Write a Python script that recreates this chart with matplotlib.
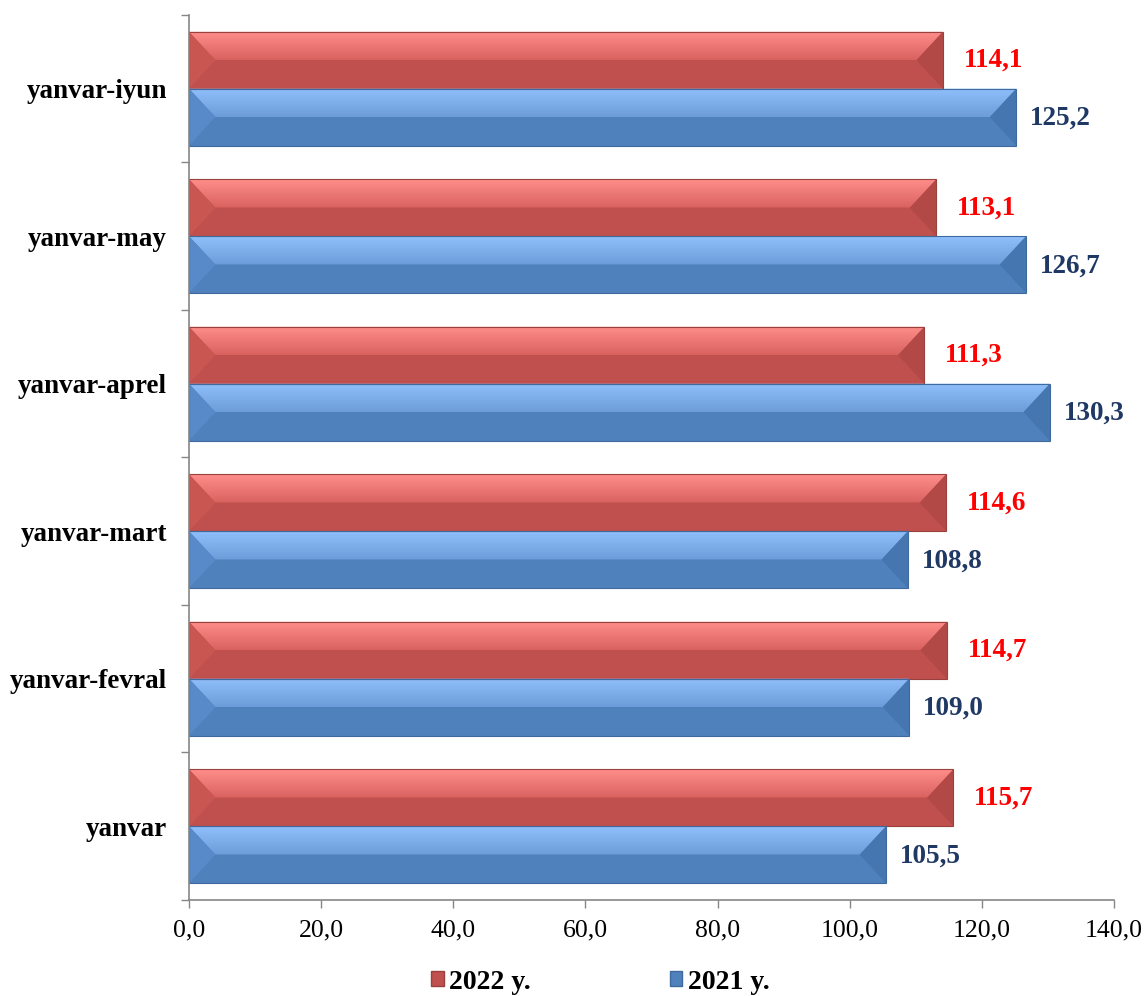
import numpy as np
import matplotlib
matplotlib.use("Agg")
import matplotlib.pyplot as plt
from matplotlib.patches import Polygon, Patch
from matplotlib.colors import to_rgb
from matplotlib.ticker import FixedLocator, FuncFormatter

plt.rcParams['font.family'] = ['Liberation Serif', 'DejaVu Serif']

# данные
categories = ["yanvar", "yanvar-fevral", "yanvar-mart", "yanvar-aprel", "yanvar-may", "yanvar-iyun"]
values_2022 = [115.7, 114.7, 114.6, 111.3, 113.1, 114.1]
values_2021 = [105.5, 109.0, 108.8, 130.3, 126.7, 125.2]
series_labels = ["2022 y.", "2021 y."]
x_ticks = [0, 20, 40, 60, 80, 100, 120, 140]

# палитра: светлый верх, середина, основной, боковые грани
RED = dict(light="#FF8E8B", mid="#D9625F", base="#C0504D", side="#CA5652", dark="#B24946", edge="#9A403D")
BLUE = dict(light="#8FC0FB", mid="#6C9DDA", base="#4F81BD", side="#5889C8", dark="#4676B0", edge="#3F6A9E")


def draw_bevel(ax, rect, pal, w=4.0):
    x0 = rect.get_x()
    x1 = x0 + rect.get_width()
    yb = rect.get_y()
    yt = yb + rect.get_height()
    yc = (yb + yt) / 2
    z = rect.get_zorder() + 0.1

    # верхняя трапеция с градиентом
    top = Polygon([(x0, yt), (x1, yt), (x1 - w, yc), (x0 + w, yc)], closed=True,
                  facecolor="none", edgecolor="none", transform=ax.transData)
    ax.add_patch(top)
    c1, c2 = np.array(to_rgb(pal["mid"])), np.array(to_rgb(pal["light"]))
    t = np.linspace(0, 1, 64)[:, None]
    grad = (c1 * (1 - t) + c2 * t)[:, None, :]
    im = ax.imshow(grad, extent=(x0, x1, yc, yt), origin="lower", aspect="auto",
                   interpolation="bilinear", zorder=z)
    im.set_clip_path(top)

    ax.add_patch(Polygon([(x0, yb), (x1, yb), (x1 - w, yc), (x0 + w, yc)], closed=True,
                         facecolor=pal["base"], edgecolor="none", zorder=z))
    ax.add_patch(Polygon([(x0, yt), (x0 + w, yc), (x0, yb)], closed=True,
                         facecolor=pal["side"], edgecolor="none", zorder=z + 0.1))
    ax.add_patch(Polygon([(x1, yt), (x1 - w, yc), (x1, yb)], closed=True,
                         facecolor=pal["dark"], edgecolor="none", zorder=z + 0.1))
    # контур
    ax.add_patch(Polygon([(x0, yb), (x1, yb), (x1, yt), (x0, yt)], closed=True,
                         facecolor="none", edgecolor=pal["edge"], linewidth=0.8, zorder=z + 0.2))


fig = plt.figure(figsize=(11.46, 9.96), dpi=100)
ax = fig.add_axes([0.1649, 0.0964, 0.8072, 0.8886])

y = np.arange(len(categories))
h = 0.386
bars_22 = ax.barh(y + h / 2, values_2022, height=h, color=RED["base"], zorder=2)
bars_21 = ax.barh(y - h / 2, values_2021, height=h, color=BLUE["base"], zorder=2)

for b in bars_22:
    draw_bevel(ax, b, RED)
for b in bars_21:
    draw_bevel(ax, b, BLUE)

fmt = lambda v: f"{v:.1f}".replace(".", ",")
for b, v in zip(bars_22, values_2022):
    ax.annotate(fmt(v), (b.get_x() + b.get_width(), b.get_y() + b.get_height() / 2),
                xytext=(15, 0), textcoords="offset points", va="center", ha="left",
                fontsize=19.5, fontweight="bold", color="#FF0000")
for b, v in zip(bars_21, values_2021):
    ax.annotate(fmt(v), (b.get_x() + b.get_width(), b.get_y() + b.get_height() / 2),
                xytext=(10, -1), textcoords="offset points", va="center", ha="left",
                fontsize=19.5, fontweight="bold", color="#1F3864")

ax.set_xlim(0, 140)
ax.set_ylim(-0.5, len(categories) - 0.5)

ax.xaxis.set_major_locator(FixedLocator(x_ticks))
ax.xaxis.set_major_formatter(FuncFormatter(lambda v, p: fmt(v)))
ax.tick_params(axis="x", direction="out", length=6, width=1, color="#868686",
               labelsize=18.5, pad=8)

ax.yaxis.set_major_locator(FixedLocator(np.arange(len(categories) + 1) - 0.5))
ax.yaxis.set_major_formatter(FuncFormatter(lambda v, p: ""))
ax.yaxis.set_minor_locator(FixedLocator(y))
ax.set_yticklabels(categories, minor=True)
ax.tick_params(axis="y", which="major", direction="out", length=6, width=1, color="#868686")
ax.tick_params(axis="y", which="minor", length=0, pad=16, labelsize=19.5)
for lab in ax.get_yticklabels(minor=True):
    lab.set_fontweight("bold")

for side in ["top", "right"]:
    ax.spines[side].set_visible(False)
for side in ["left", "bottom"]:
    ax.spines[side].set_color("#868686")
    ax.spines[side].set_linewidth(1.2)

handles = [Patch(facecolor=RED["base"], edgecolor=RED["edge"]),
           Patch(facecolor=BLUE["base"], edgecolor=BLUE["edge"])]
leg = fig.legend(handles, series_labels, loc="center", bbox_to_anchor=(0.524, 0.014),
                 ncol=2, frameon=False, handlelength=0.45, handleheight=0.45,
                 handletextpad=0.2, columnspacing=5.0,
                 prop=dict(size=20, weight="bold"))

fig.savefig("out.png", dpi=100)
